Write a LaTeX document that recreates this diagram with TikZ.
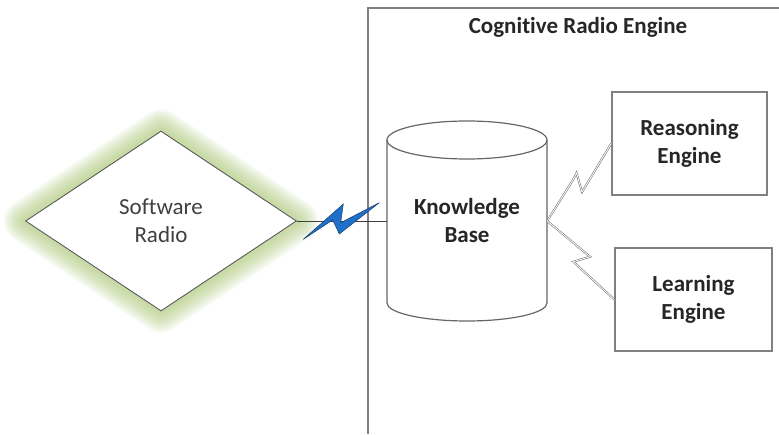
\documentclass[tikz,border=0pt]{standalone}
\usepackage{fontspec}
\setmainfont{Carlito}[Ligatures={NoCommon,NoContextual}]
\usetikzlibrary{shapes.geometric,backgrounds}
\definecolor{glowgreen}{RGB}{165,195,110}
\definecolor{boltblue}{RGB}{31,112,200}
\definecolor{boltedge}{RGB}{25,60,110}
\definecolor{framegray}{RGB}{128,128,128}
\definecolor{textgray}{RGB}{64,64,64}
\tikzset{
  txt/.style={font=\fontsize{23}{28}\selectfont, align=center, text=textgray},
  bold/.style={txt, font=\fontsize{23}{28}\selectfont\bfseries, text=black!85},
  enginebox/.style={bold, draw=framegray, line width=1.4pt, fill=white, minimum height=103pt, inner sep=0pt},
  zigzag/.style={draw=black!60, line width=0.5pt, double=white, double distance=0.9pt, line join=miter},
  glowline/.style={draw=glowgreen, opacity=0.09, line join=round},
}
\begin{document}
\begin{tikzpicture}[x=1pt,y=1pt]
\useasboundingbox (0,0) rectangle (779,434);

% Cognitive radio engine frame (open to the right and bottom)
\draw[framegray, line width=1.3pt] (368,0) -- (368,426) -- (779,426);
\node[bold] (title) at (578,407) {Cognitive Radio Engine};

% Software radio diamond with a soft green glow
\node[diamond, draw=black!65, line width=0.9pt, fill=white, minimum width=271pt, minimum height=180pt, inner sep=0pt, txt] (sr) at (161,213) {Software\\Radio};
\begin{pgfonlayer}{background}
  \foreach \w in {42,38,34,30,26,22,18,14,10,6}
    \draw[glowline, line width=\w pt] (sr.north) -- (sr.east) -- (sr.south) -- (sr.west) -- cycle;
\end{pgfonlayer}

% Knowledge base cylinder
\filldraw[draw=black!60, fill=white, line width=1.2pt]
  (387,294) -- (387,131) arc[start angle=180, end angle=360, x radius=80, y radius=18] -- (547,294);
\draw[black!60, line width=1.2pt] (467,294) ellipse[x radius=80, y radius=19];
\node[bold, minimum width=160pt, minimum height=60pt, inner sep=0pt] (kb) at (467,213) {Knowledge\\Base};

% Engines
\node[enginebox, minimum width=155pt] (re) at (689.5,290.5) {Reasoning\\Engine};
\node[enginebox, minimum width=157pt] (le) at (693.5,134.5) {Learning\\Engine};

% Wireless link between the radio and the knowledge base
\draw[black!75, line width=0.8pt] (sr.east) -- (kb.west);
\filldraw[fill=boltblue, draw=boltedge, line width=0.5pt, line join=miter]
  (303.3,194.7) -- (343.3,230) -- (340.7,211.3) -- (379.3,231.3)
  -- (339.3,200) -- (332.7,214) -- cycle;

% Lightning connectors to the engines
\draw[zigzag] (kb.east) -- (573,254) -- (576.5,261) -- (582,242) -- (re.west);
\draw[zigzag] (kb.east) -- (590,177.3) -- (573.3,172.3) -- (le.west);
\end{tikzpicture}
\end{document}
